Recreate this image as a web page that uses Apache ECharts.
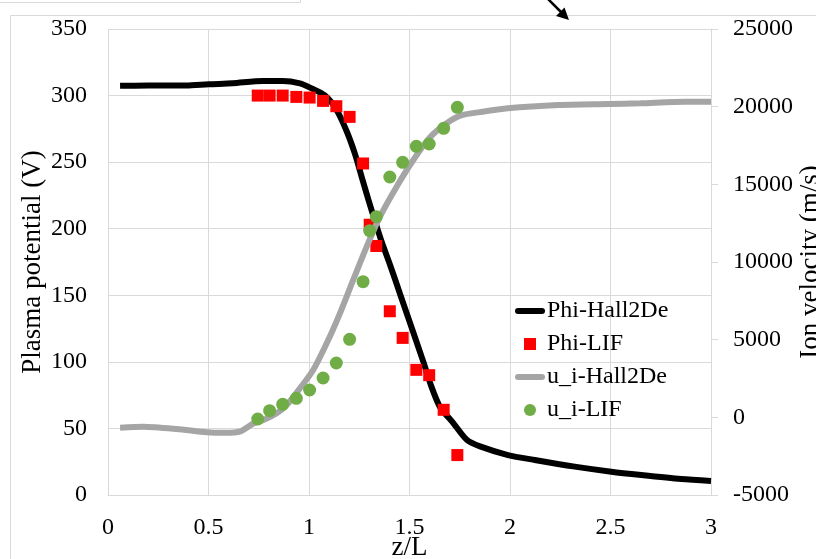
<!DOCTYPE html>
<html>
<head>
<meta charset="utf-8">
<script src="https://cdn.jsdelivr.net/npm/echarts@6/dist/echarts.min.js"></script>
<style>
html,body{margin:0;padding:0;background:#fff;}
#chart{width:816px;height:559px;}
</style>
</head>
<body>
<div id="chart"></div>
<script>
// z/L positions of Hall2De simulated potential
var phiSimX = [0.06,0.2,0.39,0.5,0.62,0.77,0.87,0.955,1.005,1.08,1.138,1.188,1.229,1.262,1.295,1.328,1.362,1.403,1.453,1.519,1.569,1.61,1.652,1.718,1.785,1.851,1.99,2.123,2.322,2.504,2.653,2.852,3.0];
var phiSimY = [307.3,307.5,307.5,308.5,309.2,311,311,309.2,306,300,289,273,256,239,222,206,190,173,151,122,100,81,66,54,41.5,36.5,30,26.3,21.3,17.5,15,12,10.5];

// Hall2De simulated ion velocity
var uSimX = [0.06,0.176,0.342,0.491,0.58,0.66,0.723,0.773,0.839,0.889,0.955,1.021,1.088,1.154,1.22,1.287,1.353,1.436,1.519,1.6,1.685,1.76,1.85,1.99,2.24,2.49,2.65,2.87,3.0];
var uSimY = [-670,-600,-750,-960,-1000,-900,-400,-172,260,794,1869,3048,4766,6698,8842,10985,12917,14849,16567,18000,18930,19450,19650,19895,20100,20170,20220,20320,20320];

// LIF measurements (shared z/L positions)
var lifX = [0.745,0.804,0.869,0.937,1.003,1.070,1.136,1.202,1.269,1.302,1.335,1.402,1.466,1.534,1.598,1.670,1.738];
var phiLif = [300,300,300,299,298.5,296,292,284,249,203,187,138,118,94,90,64,30];
var uLif = [-107,427,839,1225,1760,2532,3498,5024,8733,12016,12917,15473,16419,17449,17597,18608,19960];

var seriesNames = ['Phi-Hall2De','Phi-LIF','u_i-Hall2De','u_i-LIF'];
var axisTitles = {x:'z/L', left:'Plasma potential (V)', right:'Ion velocity (m/s)'};

function pairs(xs, ys){ return xs.map(function(x,i){ return [x, ys[i]]; }); }

var FONT = 'Liberation Serif';
var GRID = '#d9d9d9';
var LINE_ICON = 'path://M3,0H27A3,3 0 0 1 27,6H3A3,3 0 0 1 3,0Z';
var SQUARE_ICON = 'path://M0,0H12V12H0Z';

var chart = echarts.init(document.getElementById('chart'), null, {renderer:'canvas'});
chart.setOption({
  animation:false,
  backgroundColor:'#ffffff',
  textStyle:{fontFamily:FONT},
  grid:{left:108, top:29, right:105, bottom:64, containLabel:false, outerBoundsMode:'none'},
  legend:{
    data:[
      {name:seriesNames[0], icon:LINE_ICON},
      {name:seriesNames[1], icon:SQUARE_ICON},
      {name:seriesNames[2], icon:LINE_ICON},
      {name:seriesNames[3], icon:'circle'}
    ],
    orient:'vertical',
    left:515, top:299, padding:0,
    itemWidth:30, itemHeight:12, itemGap:9,
    textStyle:{fontFamily:FONT, fontSize:24, color:'#000', padding:[0,0,0,-3]}
  },
  xAxis:{
    type:'value', min:0, max:3, interval:0.5,
    name:axisTitles.x, nameLocation:'middle', nameGap:39, nameMoveOverlap:false,
    nameTextStyle:{fontFamily:FONT, fontSize:27, color:'#000'},
    axisLine:{show:true, lineStyle:{color:GRID, width:1}},
    axisTick:{show:false},
    axisLabel:{fontFamily:FONT, fontSize:24, color:'#000', margin:21},
    splitLine:{show:true, lineStyle:{color:GRID, width:1}}
  },
  yAxis:[
    {
      type:'value', min:0, max:350, interval:50, position:'left',
      name:axisTitles.left, nameLocation:'middle', nameGap:62, nameRotate:90, nameMoveOverlap:false,
      nameTextStyle:{fontFamily:FONT, fontSize:27, color:'#000'},
      axisLine:{show:false}, axisTick:{show:false},
      axisLabel:{fontFamily:FONT, fontSize:24, color:'#000', margin:21},
      splitLine:{show:true, lineStyle:{color:GRID, width:1}}
    },
    {
      type:'value', min:-5000, max:25000, interval:5000, position:'right',
      name:axisTitles.right, nameLocation:'middle', nameGap:86, nameRotate:90, nameMoveOverlap:false,
      nameTextStyle:{fontFamily:FONT, fontSize:27, color:'#000'},
      axisLine:{show:true, lineStyle:{color:GRID, width:1}},
      axisTick:{show:true, length:7, lineStyle:{color:GRID}},
      axisLabel:{fontFamily:FONT, fontSize:24, color:'#000', margin:22,
        formatter:function(v){ return String(v); }},
      splitLine:{show:false}
    }
  ],
  series:[
    {
      name:seriesNames[0], type:'line', yAxisIndex:0, data:pairs(phiSimX, phiSimY),
      symbol:'none', smooth:0.25, lineStyle:{color:'#000', width:6}, itemStyle:{color:'#000'}, z:2
    },
    {
      name:seriesNames[1], type:'scatter', yAxisIndex:0, data:pairs(lifX, phiLif),
      symbol:'rect', symbolSize:12, itemStyle:{color:'#ff0000', opacity:1}, z:3
    },
    {
      name:seriesNames[2], type:'line', yAxisIndex:1, data:pairs(uSimX, uSimY),
      symbol:'none', smooth:0.25, lineStyle:{color:'#a5a5a5', width:6}, itemStyle:{color:'#a5a5a5'}, z:4
    },
    {
      name:seriesNames[3], type:'scatter', yAxisIndex:1, data:pairs(lifX, uLif),
      symbol:'circle', symbolSize:13, itemStyle:{color:'#70ad47', opacity:1}, z:5
    }
  ],
  graphic:[
    {type:'rect', shape:{x:10.5, y:15.5, width:830, height:570}, style:{fill:'none', stroke:GRID, lineWidth:1}, silent:true, z:-1},
    {type:'polyline', shape:{points:[[-1,2.5],[300.5,2.5],[300.5,-1]]}, style:{fill:'none', stroke:GRID, lineWidth:1}, silent:true},
    {type:'line', shape:{x1:548, y1:-1, x2:562, y2:13}, style:{stroke:'#000', lineWidth:2.5}, silent:true},
    {type:'polygon', shape:{points:[[569,20],[556,16],[564.5,7.5]]}, style:{fill:'#000'}, silent:true}
  ]
});
</script>
</body>
</html>
